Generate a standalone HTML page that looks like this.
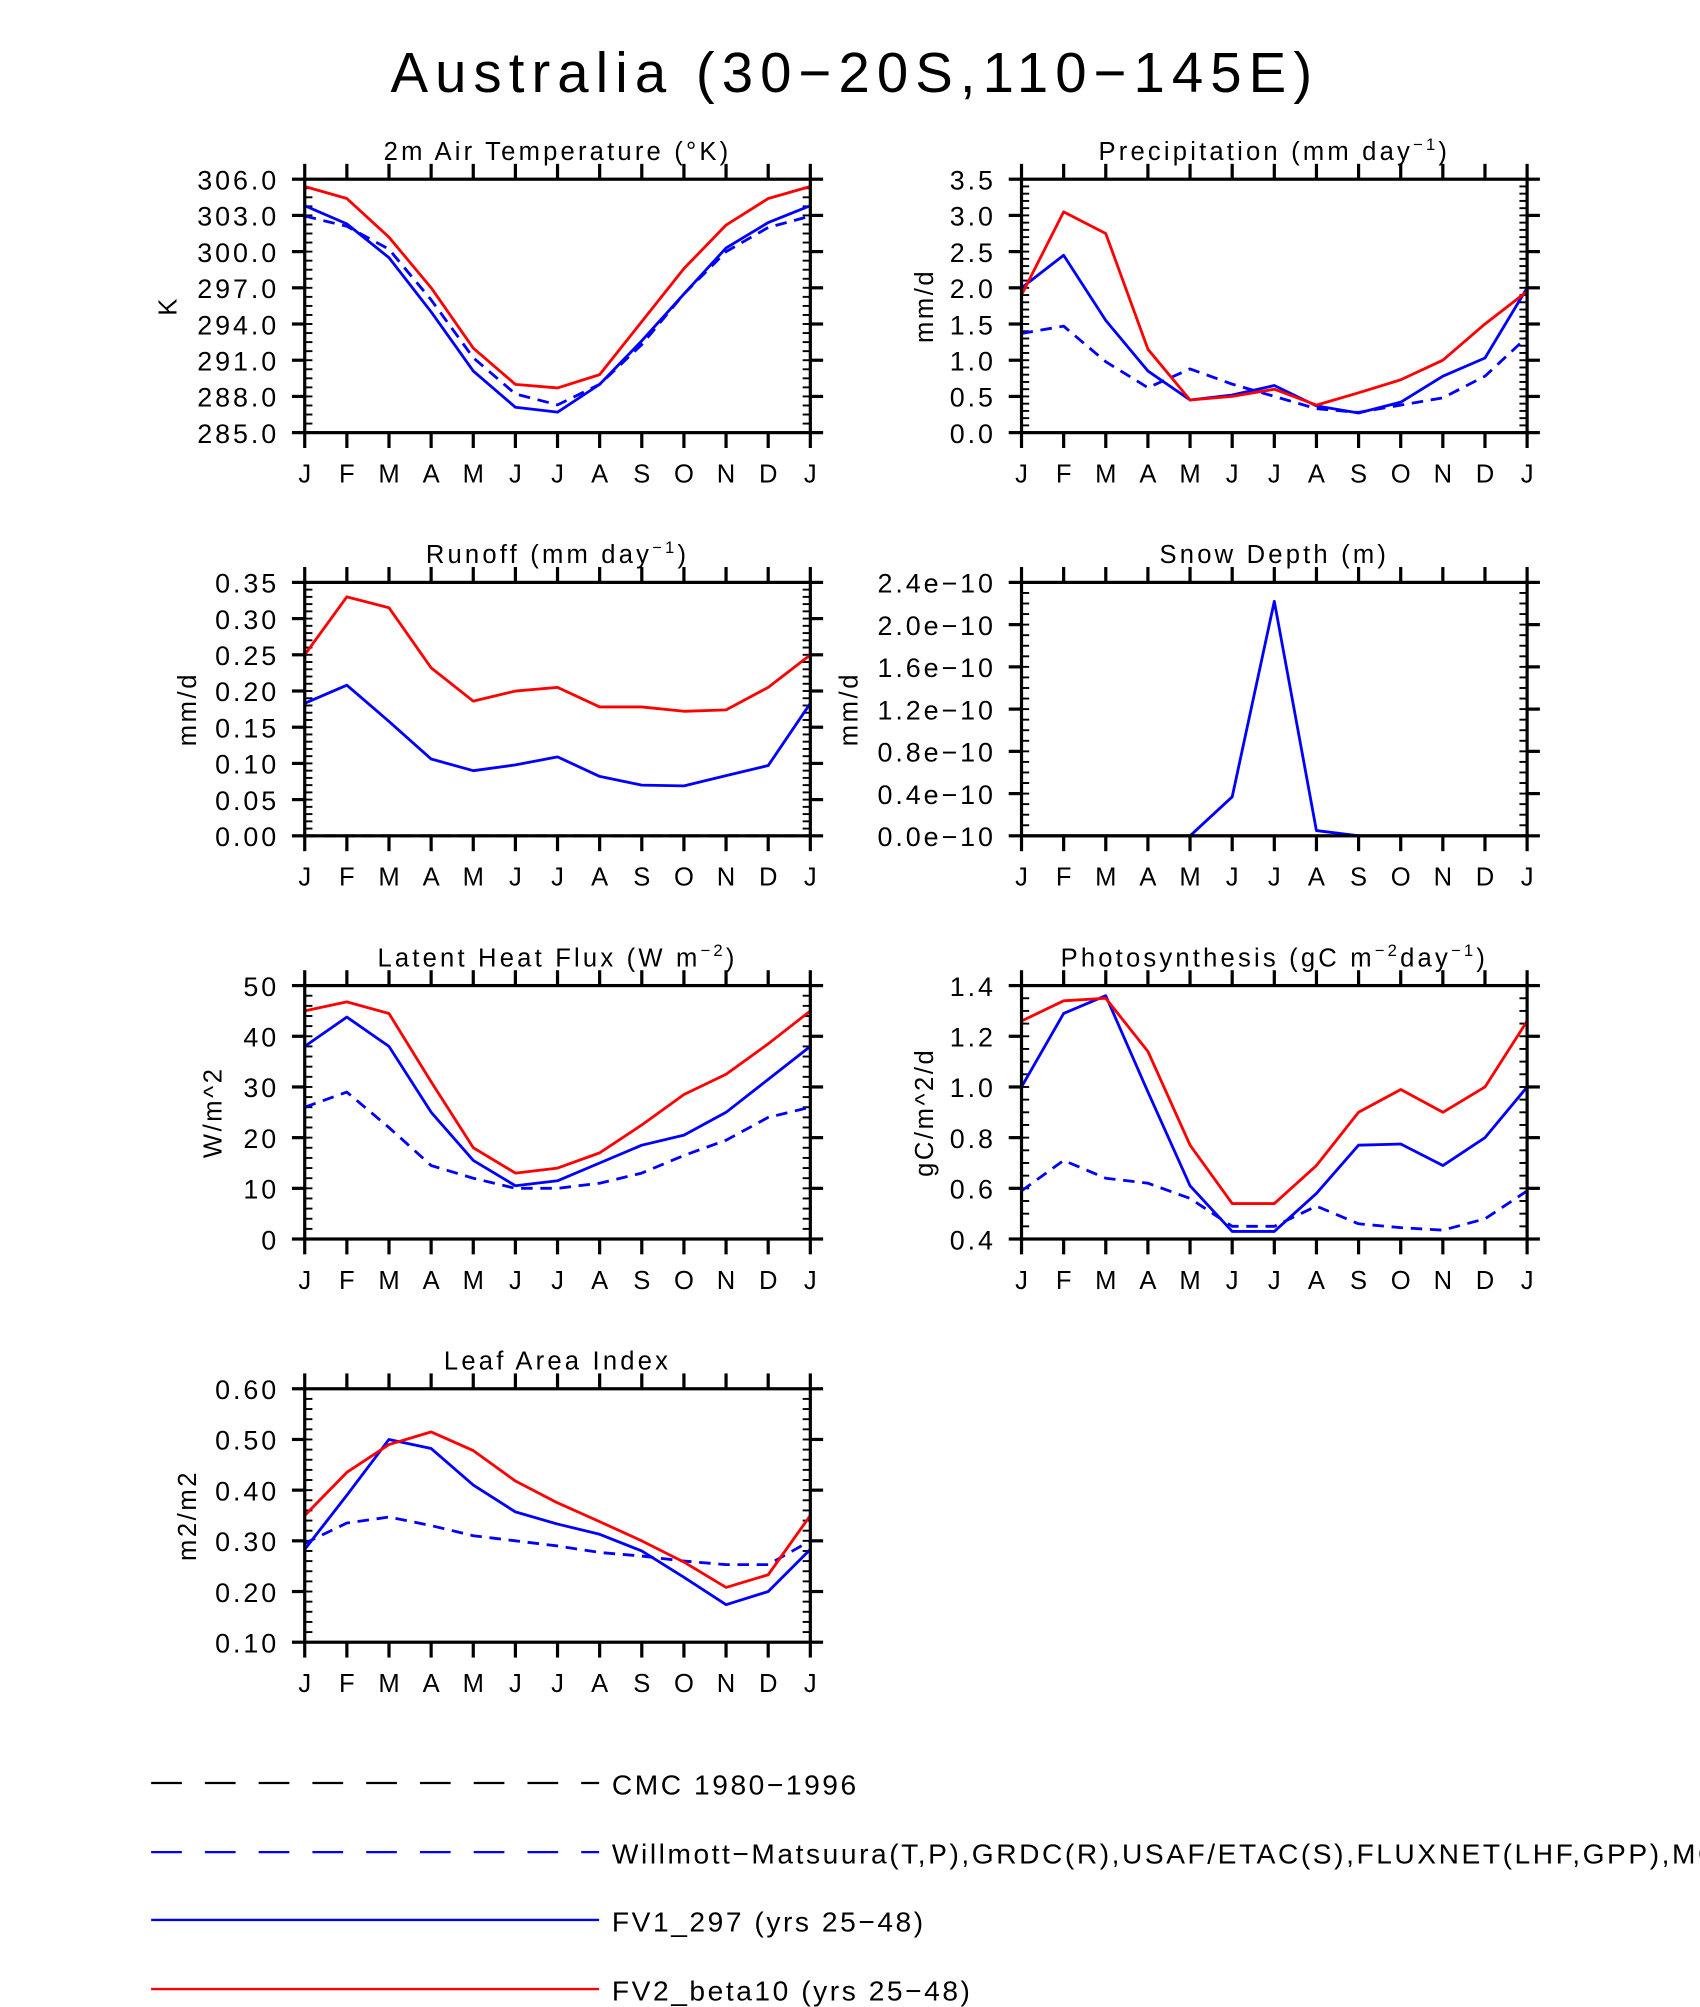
<!DOCTYPE html>
<html><head><meta charset="utf-8"><style>
html,body{margin:0;padding:0;background:#fff;}
svg{display:block;font-family:"Liberation Sans",sans-serif;}
</style></head><body>
<svg id="fig" width="1700" height="2007" viewBox="0 0 1328 1568" xmlns="http://www.w3.org/2000/svg">
<rect width="1328" height="1568" fill="#fff"/>
<text x="665" y="72" font-size="44" text-anchor="middle" textLength="720" lengthAdjust="spacing">Australia (30−20S,110−145E)</text>
</svg>
<script>
const months = ["J","F","M","A","M","J","J","A","S","O","N","D","J"];
const tempRed  = [305.4,304.4,301.2,297.0,292.0,289.0,288.7,289.8,294.2,298.6,302.2,304.4,305.4];
const tempBlue = [303.8,302.3,299.5,295.0,290.1,287.1,286.7,289.0,292.6,296.5,300.3,302.4,303.8];
const tempObs  = [302.95,302.1,300.2,296.0,291.2,288.2,287.3,289.0,292.3,296.5,300.0,302.0,302.95];
const precRed  = [1.9,3.05,2.75,1.15,0.45,0.5,0.6,0.38,0.55,0.73,1.0,1.5,1.95];
const precBlue = [2.0,2.45,1.55,0.85,0.45,0.52,0.65,0.37,0.27,0.42,0.78,1.03,2.0];
const precObs  = [1.37,1.47,0.98,0.62,0.88,0.67,0.5,0.33,0.28,0.38,0.48,0.78,1.32];
const roRed  = [0.25,0.33,0.315,0.232,0.186,0.2,0.205,0.178,0.178,0.172,0.174,0.205,0.25];
const roBlue = [0.183,0.208,0.158,0.106,0.09,0.098,0.109,0.082,0.07,0.069,0.083,0.097,0.183];
const roObs  = [0,0,0,0,0,0,0,0,0,0,0,0,0];
const snowRed  = [0,0,0,0,0,0,0,0,0,0,0,0,0];
const snowBlue = [0,0,0,0,0,0.37,2.22,0.05,0,0,0,0,0];
const lhRed  = [45,46.8,44.5,31,18,13,14,17,22.5,28.5,32.5,38.5,45];
const lhBlue = [38,43.8,38,25,15.5,10.5,11.5,15,18.5,20.5,25,31.5,38];
const lhObs  = [26,29,22,14.5,12,10,10,11,13,16.5,19.5,24,26];
const psRed  = [1.26,1.34,1.35,1.14,0.77,0.54,0.54,0.69,0.9,0.99,0.9,1.0,1.26];
const psBlue = [1.0,1.29,1.36,0.98,0.61,0.43,0.43,0.58,0.77,0.775,0.69,0.8,1.0];
const psObs  = [0.59,0.71,0.64,0.62,0.56,0.45,0.45,0.53,0.46,0.445,0.435,0.48,0.59];
const laiRed  = [0.35,0.435,0.49,0.515,0.478,0.418,0.375,0.338,0.3,0.258,0.208,0.233,0.35];
const laiBlue = [0.283,0.39,0.5,0.482,0.41,0.357,0.333,0.313,0.28,0.228,0.174,0.2,0.283];
const laiObs  = [0.295,0.335,0.347,0.33,0.31,0.3,0.29,0.277,0.27,0.26,0.253,0.253,0.3];
const tempTicks = ["285.0","288.0","291.0","294.0","297.0","300.0","303.0","306.0"];
const precTicks = ["0.0","0.5","1.0","1.5","2.0","2.5","3.0","3.5"];
const roTicks = ["0.00","0.05","0.10","0.15","0.20","0.25","0.30","0.35"];
const snowTicks = ["0.0e−10","0.4e−10","0.8e−10","1.2e−10","1.6e−10","2.0e−10","2.4e−10"];
const lhTicks = ["0","10","20","30","40","50"];
const psTicks = ["0.4","0.6","0.8","1.0","1.2","1.4"];
const laiTicks = ["0.10","0.20","0.30","0.40","0.50","0.60"];

const NS="http://www.w3.org/2000/svg";
const svg=document.getElementById('fig');
function mk(tag,attrs,parent){const e=document.createElementNS(NS,tag);for(const k in attrs)e.setAttribute(k,attrs[k]);(parent||svg).appendChild(e);return e;}

function panel(cfg){
  const g=mk('g',{});
  
  
  const L=cfg.x,R=cfg.x+395,T=cfg.y,B=cfg.y+198;
  const xs=i=>L+(R-L)*i/12;
  const ys=v=>B-(v-cfg.min)/(cfg.max-cfg.min)*(B-T);
  const t=mk('text',{x:(L+R)/2,y:T-15,'font-size':20,'text-anchor':'middle','letter-spacing':2.5},g);
  
  
  t.innerHTML=cfg.title;
  const yt=mk('text',{x:cfg.ytx,y:(T+B)/2,'font-size':20,'text-anchor':'middle','letter-spacing':2,transform:`rotate(-90 ${cfg.ytx} ${(T+B)/2})`},g);
  
  
  yt.textContent=cfg.ytitle;
  for(let v=cfg.min;v<=cfg.max+1e-9;v+=cfg.minor){
    const y=ys(v);
    mk('line',{x1:L,x2:L+6,y1:y,y2:y,stroke:'#000','stroke-width':1.5},g);
    mk('line',{x1:R,x2:R-6,y1:y,y2:y,stroke:'#000','stroke-width':1.5},g);
  }
  cfg.ticks.forEach((lab,i)=>{
    const v=cfg.min+i*cfg.major,y=ys(v);
    mk('line',{x1:L-10,x2:L,y1:y,y2:y,stroke:'#000','stroke-width':2.5},g);
    mk('line',{x1:R,x2:R+10,y1:y,y2:y,stroke:'#000','stroke-width':2.5},g);
    const tl=mk('text',{x:L-20,y:y+8,'font-size':21,'text-anchor':'end','letter-spacing':2.3},g);
    
    
    tl.textContent=lab;
  });
  months.forEach((m,i)=>{
    const x=xs(i);
    mk('line',{x1:x,x2:x,y1:T-12,y2:T,stroke:'#000','stroke-width':2.5},g);
    mk('line',{x1:x,x2:x,y1:B,y2:B+12,stroke:'#000','stroke-width':2.5},g);
    const xl=mk('text',{x:x,y:B+39,'font-size':20,'text-anchor':'middle'},g);
    
    
    xl.textContent=m;
  });
  cfg.series.forEach(s=>{
    const pts=s.data.map((v,i)=>xs(i).toFixed(1)+','+ys(v).toFixed(1)).join(' ');
    const p=mk('polyline',{points:pts,fill:'none',stroke:s.color,'stroke-width':2.2,'stroke-dasharray':s.dash||'none','stroke-linejoin':'round'},g);
    
    
  });
  mk('rect',{x:L,y:T,width:R-L,height:B-T,fill:'none',stroke:'#000','stroke-width':2.5},g);
}
const LX=238,RX=798;
const sup=s=>`<tspan dy="-8" font-size="13">${s}</tspan>`;
panel({name:'air-temperature-panel',x:LX,y:140,min:285,max:306,major:3,minor:0.75,ticks:tempTicks,title:'2m Air Temperature (°K)',ytitle:'K',ytx:138,
  series:[{name:'temp-obs',data:tempObs,color:'#00f',dash:'9 6'},{name:'temp-fv1',data:tempBlue,color:'#00f'},{name:'temp-fv2',data:tempRed,color:'#f00'}]});
panel({name:'precipitation-panel',x:RX,y:140,min:0,max:3.5,major:0.5,minor:0.1,ticks:precTicks,title:'Precipitation (mm day'+sup('−1')+'<tspan dy="8">)</tspan>',ytitle:'mm/d',ytx:729,
  series:[{name:'precip-obs',data:precObs,color:'#00f',dash:'9 6'},{name:'precip-fv1',data:precBlue,color:'#00f'},{name:'precip-fv2',data:precRed,color:'#f00'}]});
panel({name:'runoff-panel',x:LX,y:455,min:0,max:0.35,major:0.05,minor:0.01,ticks:roTicks,title:'Runoff (mm day'+sup('−1')+'<tspan dy="8">)</tspan>',ytitle:'mm/d',ytx:153,
  series:[{name:'runoff-obs',data:roObs,color:'#00f',dash:'9 6'},{name:'runoff-fv1',data:roBlue,color:'#00f'},{name:'runoff-fv2',data:roRed,color:'#f00'}]});
panel({name:'snow-depth-panel',x:RX,y:455,min:0,max:2.4,major:0.4,minor:0.1,ticks:snowTicks,title:'Snow Depth (m)',ytitle:'mm/d',ytx:670,
  series:[{name:'snow-fv2',data:snowRed,color:'#f00'},{name:'snow-fv1',data:snowBlue,color:'#00f'}]});
panel({name:'latent-heat-panel',x:LX,y:770,min:0,max:50,major:10,minor:2,ticks:lhTicks,title:'Latent Heat Flux (W m'+sup('−2')+'<tspan dy="8">)</tspan>',ytitle:'W/m^2',ytx:173,
  series:[{name:'lhf-obs',data:lhObs,color:'#00f',dash:'9 6'},{name:'lhf-fv1',data:lhBlue,color:'#00f'},{name:'lhf-fv2',data:lhRed,color:'#f00'}]});
panel({name:'photosynthesis-panel',x:RX,y:770,min:0.4,max:1.4,major:0.2,minor:0.05,ticks:psTicks,title:'Photosynthesis (gC m'+sup('−2')+'<tspan dy="8">day</tspan>'+sup('−1')+'<tspan dy="8">)</tspan>',ytitle:'gC/m^2/d',ytx:729,
  series:[{name:'gpp-obs',data:psObs,color:'#00f',dash:'9 6'},{name:'gpp-fv1',data:psBlue,color:'#00f'},{name:'gpp-fv2',data:psRed,color:'#f00'}]});
panel({name:'leaf-area-index-panel',x:LX,y:1085,min:0.1,max:0.6,major:0.1,minor:0.02,ticks:laiTicks,title:'Leaf Area Index',ytitle:'m2/m2',ytx:153,
  series:[{name:'lai-obs',data:laiObs,color:'#00f',dash:'9 6'},{name:'lai-fv1',data:laiBlue,color:'#00f'},{name:'lai-fv2',data:laiRed,color:'#f00'}]});

const legend=[
 {label:'CMC 1980−1996',color:'#000',dash:'24 18',y:1393},
 {label:'Willmott−Matsuura(T,P),GRDC(R),USAF/ETAC(S),FLUXNET(LHF,GPP),MODIS(LAI)',color:'#00f',dash:'24 18',y:1447},
 {label:'FV1_297 (yrs 25−48)',color:'#00f',dash:'none',y:1500},
 {label:'FV2_beta10 (yrs 25−48)',color:'#f00',dash:'none',y:1554}];
const lg=mk('g',{});


legend.forEach(e=>{
  const gg=mk('g',{},lg);
  
  
  mk('line',{x1:118,x2:468,y1:e.y,y2:e.y,stroke:e.color,'stroke-width':1.8,'stroke-dasharray':e.dash},gg);
  const t=mk('text',{x:478,y:e.y+9,'font-size':22,'letter-spacing':2},gg);
  t.textContent=e.label;
});
</script>
</body></html>
